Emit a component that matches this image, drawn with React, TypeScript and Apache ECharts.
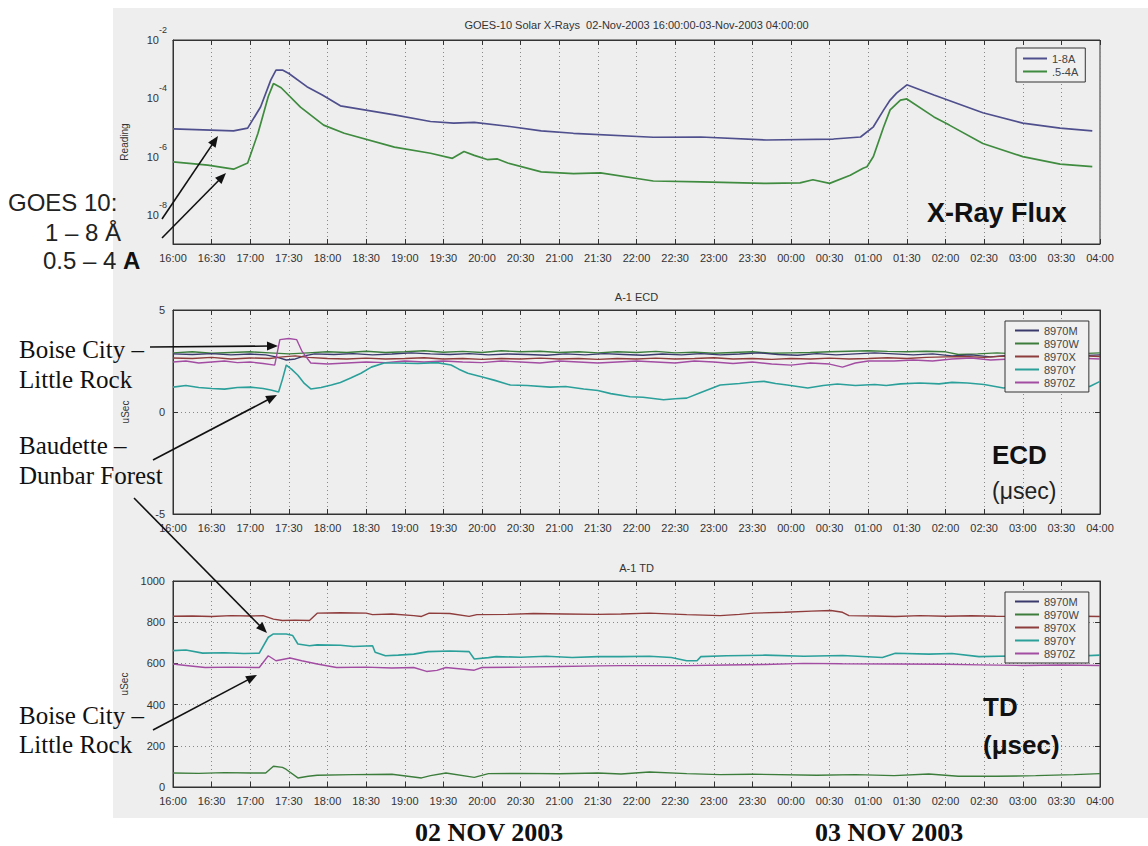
import React, { useEffect, useRef } from 'react';
import * as echarts from 'echarts';

// ---------- texts ----------
const xRayTitle = 'GOES-10 Solar X-Rays  02-Nov-2003 16:00:00-03-Nov-2003 04:00:00';
const ecdTitle = 'A-1 ECD';
const tdTitle = 'A-1 TD';
const xRayNames = ['1-8A', '.5-4A'];
const stationNames = ['8970M', '8970W', '8970X', '8970Y', '8970Z'];

// ---------- data: [minutes after 02-Nov 16:00, value] ----------
const xray18: [number, number][] = [
  [0, 8.9e-6], [47, 7.6e-6], [58, 9.5e-6], [68, 5.0e-5], [76, 4.3e-4], [80, 9.3e-4], [85, 9.3e-4],
  [90, 7.1e-4], [104, 2.5e-4], [116, 1.3e-4], [130, 5.5e-5], [172, 2.7e-5], [200, 1.6e-5],
  [218, 1.4e-5], [234, 1.5e-5], [260, 1.1e-5], [286, 7.6e-6], [311, 6.3e-6], [373, 4.6e-6],
  [410, 4.7e-6], [461, 3.7e-6], [513, 4.0e-6], [534, 4.7e-6], [544, 1.05e-5], [552, 4.0e-5],
  [557, 8.7e-5], [562, 1.5e-4], [570, 2.9e-4], [591, 1.3e-4], [629, 3.2e-5], [660, 1.4e-5],
  [689, 9.5e-6], [714, 7.6e-6],
];
const xray054: [number, number][] = [
  [0, 6.6e-7], [27, 5.1e-7], [47, 3.7e-7], [58, 6.0e-7], [66, 6.3e-6], [74, 1.15e-4], [78, 3.2e-4],
  [84, 2.3e-4], [99, 5.0e-5], [117, 1.2e-5], [133, 6.3e-6], [172, 2.1e-6], [200, 1.3e-6],
  [217, 8.7e-7], [226, 1.5e-6], [234, 1.1e-6], [244, 7.9e-7], [252, 8.3e-7], [260, 6.0e-7],
  [286, 3.0e-7], [311, 2.6e-7], [332, 2.75e-7], [373, 1.45e-7], [410, 1.35e-7], [461, 1.2e-7],
  [487, 1.25e-7], [497, 1.6e-7], [510, 1.2e-7], [526, 2.3e-7], [536, 4.0e-7], [539, 4.5e-7],
  [544, 1.0e-6], [552, 1.05e-5], [557, 4.0e-5], [565, 8.7e-5], [570, 9.5e-5], [591, 2.3e-5],
  [603, 1.2e-5], [629, 2.8e-6], [660, 1.0e-6], [689, 5.5e-7], [714, 4.5e-7],
];

const ecdM: [number, number][] = [
  [0, 2.85], [15, 2.82], [30, 2.86], [45, 2.8], [60, 2.84], [72, 2.8], [80, 2.7], [88, 2.55], [95, 2.6],
  [102, 2.75], [110, 2.85], [125, 2.82], [140, 2.86], [155, 2.8], [170, 2.84], [185, 2.9], [200, 2.85],
  [215, 2.82], [230, 2.86], [245, 2.8], [260, 2.84], [275, 2.82], [290, 2.78], [305, 2.85], [320, 2.8],
  [335, 2.86], [350, 2.82], [365, 2.78], [380, 2.84], [395, 2.8], [410, 2.86], [425, 2.8], [440, 2.84],
  [455, 2.9], [470, 2.82], [485, 2.78], [500, 2.86], [515, 2.8], [530, 2.85], [545, 2.9], [560, 2.85],
  [575, 2.8], [590, 2.85], [605, 2.75], [620, 2.8], [635, 2.7], [650, 2.78], [665, 2.72], [680, 2.8],
  [700, 2.75], [720, 2.8],
];
const ecdW: [number, number][] = [
  [0, 2.9], [15, 2.95], [30, 2.88], [45, 2.92], [60, 2.95], [75, 2.9], [90, 2.85], [105, 2.9], [120, 2.95],
  [135, 2.92], [150, 2.98], [165, 2.92], [180, 2.95], [195, 3.0], [210, 2.93], [225, 2.97], [240, 2.92],
  [255, 3.0], [270, 2.95], [285, 2.98], [300, 2.92], [315, 2.95], [330, 2.9], [345, 2.95], [360, 2.92],
  [375, 2.97], [390, 2.9], [405, 2.93], [420, 2.88], [435, 2.92], [450, 2.95], [465, 2.88], [480, 2.9],
  [495, 2.92], [510, 2.95], [525, 2.98], [540, 3.0], [555, 2.97], [570, 2.95], [585, 2.98], [600, 2.95],
  [610, 2.82], [625, 2.85], [640, 2.9], [655, 2.85], [670, 2.92], [685, 2.88], [700, 2.85], [720, 2.9],
];
const ecdX: [number, number][] = [
  [0, 2.65], [15, 2.62], [30, 2.68], [45, 2.6], [60, 2.65], [75, 2.62], [85, 2.7], [95, 2.75], [105, 2.68],
  [120, 2.62], [135, 2.6], [150, 2.64], [165, 2.6], [180, 2.62], [195, 2.66], [210, 2.6], [225, 2.62],
  [240, 2.58], [255, 2.62], [270, 2.6], [285, 2.64], [300, 2.6], [315, 2.62], [330, 2.58], [345, 2.62],
  [360, 2.6], [375, 2.64], [390, 2.6], [405, 2.62], [420, 2.66], [435, 2.6], [450, 2.62], [465, 2.58],
  [480, 2.62], [495, 2.6], [510, 2.64], [525, 2.6], [540, 2.62], [555, 2.66], [570, 2.62], [585, 2.68],
  [600, 2.7], [615, 2.72], [630, 2.68], [645, 2.74], [660, 2.7], [675, 2.76], [690, 2.72], [705, 2.75],
  [720, 2.72],
];
const ecdY: [number, number][] = [
  [0, 1.22], [10, 1.3], [20, 1.2], [30, 1.15], [40, 1.12], [50, 1.2], [60, 1.22], [70, 1.15], [76, 1.08],
  [82, 0.98], [85, 1.6], [88, 2.3], [92, 2.1], [97, 1.8], [102, 1.4], [107, 1.13], [115, 1.2], [123, 1.32],
  [130, 1.45], [138, 1.67], [146, 1.9], [154, 2.2], [164, 2.4], [175, 2.4], [190, 2.38], [205, 2.42],
  [216, 2.3], [222, 2.1], [229, 1.9], [241, 1.7], [250, 1.55], [262, 1.32], [275, 1.3], [293, 1.22],
  [305, 1.25], [319, 1.13], [330, 1.05], [340, 0.9], [355, 0.75], [365, 0.72], [381, 0.6], [390, 0.65],
  [399, 0.68], [410, 0.95], [425, 1.32], [440, 1.4], [451, 1.47], [459, 1.5], [468, 1.4], [477, 1.32],
  [485, 1.25], [493, 1.18], [505, 1.3], [516, 1.37], [530, 1.3], [545, 1.35], [554, 1.3], [565, 1.38],
  [580, 1.42], [595, 1.38], [605, 1.45], [617, 1.42], [630, 1.35], [645, 1.18], [660, 1.3], [680, 1.35],
  [700, 1.3], [712, 1.25], [720, 1.5],
];
const ecdZ: [number, number][] = [
  [0, 2.45], [10, 2.5], [20, 2.4], [30, 2.45], [40, 2.5], [50, 2.42], [60, 2.45], [70, 2.38], [79, 2.3],
  [83, 3.55], [90, 3.6], [96, 3.55], [100, 3.0], [107, 2.4], [120, 2.35], [135, 2.4], [150, 2.45],
  [165, 2.42], [180, 2.5], [195, 2.45], [210, 2.5], [225, 2.45], [240, 2.42], [255, 2.5], [270, 2.45],
  [285, 2.4], [300, 2.5], [315, 2.45], [330, 2.4], [345, 2.45], [360, 2.5], [375, 2.45], [390, 2.4],
  [405, 2.5], [420, 2.45], [435, 2.38], [450, 2.45], [465, 2.35], [480, 2.3], [495, 2.4], [510, 2.35],
  [520, 2.2], [530, 2.4], [540, 2.5], [560, 2.5], [575, 2.55], [590, 2.5], [605, 2.6], [620, 2.65],
  [635, 2.55], [650, 2.6], [665, 2.55], [680, 2.6], [700, 2.65], [720, 2.6],
];

const tdM: [number, number][] = [];
const tdW: [number, number][] = [
  [0, 68], [20, 66], [40, 70], [60, 68], [72, 68], [78, 101], [85, 95], [88, 85], [97, 44], [105, 52],
  [112, 57], [140, 60], [170, 62], [193, 44], [200, 55], [212, 68], [234, 47], [245, 65], [270, 66],
  [300, 64], [330, 68], [348, 63], [370, 73], [399, 65], [425, 60], [450, 62], [500, 57], [530, 60],
  [560, 55], [587, 63], [610, 52], [640, 52], [670, 55], [700, 60], [720, 65],
];
const tdX: [number, number][] = [
  [0, 829], [15, 830], [30, 828], [45, 832], [60, 830], [70, 832], [78, 815], [85, 808], [95, 810],
  [106, 808], [112, 844], [130, 846], [150, 844], [155, 837], [170, 840], [187, 832], [193, 828],
  [199, 844], [215, 842], [230, 828], [236, 837], [260, 838], [280, 842], [304, 840], [330, 838],
  [348, 840], [370, 844], [399, 837], [425, 832], [440, 838], [451, 844], [475, 848], [496, 854],
  [511, 857], [520, 848], [525, 832], [545, 830], [561, 828], [580, 832], [600, 829], [620, 831],
  [639, 829], [660, 828], [690, 830], [720, 828],
];
const tdY: [number, number][] = [
  [0, 662], [10, 665], [23, 650], [40, 652], [55, 648], [67, 650], [74, 727], [78, 743], [88, 743],
  [93, 735], [97, 694], [106, 686], [112, 690], [130, 688], [140, 682], [155, 686], [157, 654],
  [165, 637], [175, 640], [187, 645], [198, 657], [215, 660], [230, 657], [234, 621], [245, 628],
  [251, 633], [270, 630], [290, 635], [310, 629], [330, 633], [348, 633], [370, 635], [387, 629],
  [399, 613], [407, 613], [410, 633], [430, 637], [460, 640], [490, 635], [520, 638], [551, 629],
  [561, 649], [587, 645], [605, 648], [626, 633], [650, 636], [680, 630], [700, 635], [720, 640],
];
const tdZ: [number, number][] = [
  [0, 597], [10, 590], [25, 580], [45, 582], [67, 580], [74, 637], [80, 613], [91, 626], [100, 613],
  [112, 597], [127, 580], [150, 582], [170, 578], [187, 580], [197, 561], [205, 566], [212, 580],
  [234, 567], [240, 580], [270, 582], [300, 585], [330, 588], [348, 589], [400, 589], [430, 592],
  [460, 595], [490, 600], [520, 598], [560, 597], [600, 596], [626, 593], [660, 590], [690, 592],
  [720, 590],
];

const xRayGridValues = [1e-4, 1e-6, 1e-8];

// ---------- styles ----------
const xRayColors = ['#4f4f8e', '#3f8b3f'];
const stationColors = ['#3a3a6c', '#3c7d3c', '#8f3c3c', '#2ba09b', '#a24ca2'];
const SANS = '"Liberation Sans", Arial, sans-serif';
const SERIF = '"Liberation Serif", "Times New Roman", serif';
const AXIS = '#333';

const fmtTime = (m: number) => {
  const h = (16 + Math.floor(m / 60)) % 24;
  const mm = m % 60;
  return String(h).padStart(2, '0') + ':' + String(mm).padStart(2, '0');
};

const grids = [
  { left: 173, top: 40, width: 927, height: 204 },
  { left: 173, top: 310, width: 927, height: 204 },
  { left: 173, top: 581, width: 927, height: 206 },
];

function xAxes(gi: number) {
  const base = {
    type: 'value', gridIndex: gi, min: 0, max: 720, interval: 30,
    axisLine: { show: true, onZero: false, lineStyle: { color: AXIS, width: 1 } },
    axisTick: { show: true, inside: true, length: 5, lineStyle: { color: AXIS } },
  };
  return [
    {
      ...base, position: 'bottom',
      axisLabel: { show: true, formatter: fmtTime, color: AXIS, fontSize: 11, margin: 8, fontFamily: SANS },
      splitLine: { show: true, lineStyle: { color: '#888', type: [1, 3], width: 1 } },
    },
    { ...base, position: 'top', axisLabel: { show: false }, splitLine: { show: false } },
  ];
}

function linY(gi: number, min: number, max: number, interval: number) {
  const base = {
    type: 'value', gridIndex: gi, min, max, interval,
    axisLine: { show: true, onZero: false, lineStyle: { color: AXIS } },
    axisTick: { show: true, inside: true, length: 5, lineStyle: { color: AXIS } },
  };
  return [
    {
      ...base, position: 'left', name: 'uSec', nameLocation: 'middle', nameGap: 43, nameRotate: 90,
      nameTextStyle: { fontSize: 10, color: AXIS, fontFamily: SANS },
      axisLabel: { color: AXIS, fontSize: 11, margin: 8, fontFamily: SANS, formatter: (v: number) => String(v) },
      splitLine: { show: true, lineStyle: { color: '#888', type: [1, 3], width: 1 } },
    },
    { ...base, position: 'right', axisLabel: { show: false }, splitLine: { show: false } },
  ];
}

function arrow(x1: number, y1: number, x2: number, y2: number) {
  const dx = x2 - x1, dy = y2 - y1;
  const len = Math.hypot(dx, dy);
  const ux = dx / len, uy = dy / len;
  const L = 11, W = 4.5;
  const bx = x2 - ux * L, by = y2 - uy * L;
  return [
    { type: 'line', z: 50, shape: { x1, y1, x2: x2 - ux * L * 0.7, y2: y2 - uy * L * 0.7 }, style: { stroke: '#111', lineWidth: 1.6 } },
    { type: 'polygon', z: 50, shape: { points: [[x2, y2], [bx - uy * W, by + ux * W], [bx + uy * W, by - ux * W]] }, style: { fill: '#111' } },
  ];
}

function txt(text: string, x: number, y: number, size: number, family: string, weight = 'normal', align = 'left', color = '#111', rich?: any) {
  return {
    type: 'text', z: 50, x, y,
    style: {
      text, fontSize: size, fontFamily: family, fontWeight: weight, fill: color,
      align, verticalAlign: 'middle', textAlign: align, textVerticalAlign: 'middle', rich,
    },
  };
}

function lineSeries(name: string, data: [number, number][], color: string, xi: number, yi: number, width: number) {
  return {
    type: 'line', name, data, xAxisIndex: xi, yAxisIndex: yi, showSymbol: false, symbol: 'none',
    color, lineStyle: { color, width }, z: 3, silent: true,
  };
}

function legend(names: string[], left: number, top: number, padding: number[]) {
  return {
    data: names, left, top, orient: 'vertical', itemGap: 2, itemWidth: 24, itemHeight: 2, icon: 'rect',
    selectedMode: false, padding, backgroundColor: '#f0f0f0', borderColor: '#333', borderWidth: 1,
    textStyle: { fontSize: 11, color: '#444', fontFamily: SANS },
  };
}

export default function App() {
  const ref = useRef<HTMLDivElement>(null);
  useEffect(() => {
    if (!ref.current) return;
    const chart = echarts.init(ref.current, undefined, { renderer: 'svg' });
    const plotCenter = 173 + 927 / 2;
    const option: any = {
      animation: false,
      backgroundColor: '#ffffff',
      grid: grids.map((g) => ({ ...g, show: true, borderColor: AXIS, borderWidth: 1, backgroundColor: 'transparent', containLabel: false, outerBoundsMode: 'none' })),
      xAxis: [...xAxes(0), ...xAxes(1), ...xAxes(2)],
      yAxis: [
        {
          type: 'log', logBase: 10, gridIndex: 0, min: 1e-9, max: 1e-2, position: 'left',
          name: 'Reading', nameLocation: 'middle', nameGap: 44, nameRotate: 90,
          nameTextStyle: { fontSize: 10, color: AXIS, fontFamily: SANS },
          axisLine: { show: true, lineStyle: { color: AXIS } },
          axisTick: { show: false },
          splitLine: { show: false },
          axisLabel: {
            color: AXIS, margin: 6, fontFamily: SANS, padding: [0, 0, 9, 0],
            formatter: (v: number) => {
              const e = Math.round(Math.log10(v));
              if (e % 2 !== 0) return '';
              return '{b|10}{s|' + e + '}';
            },
            rich: {
              b: { fontSize: 11, color: AXIS, fontFamily: SANS, verticalAlign: 'bottom', lineHeight: 20 },
              s: { fontSize: 9, color: AXIS, fontFamily: SANS, verticalAlign: 'top', lineHeight: 20 },
            },
          },
        },
        ...linY(1, -5, 5, 5),
        ...linY(2, 0, 1000, 200),
      ],
      legend: [
        legend(xRayNames, 1016, 48, [5, 7]),
        legend(stationNames, 1005, 321, [4, 10]),
        legend(stationNames, 1005, 592, [4, 10]),
      ],
      series: [
        {
          ...lineSeries(xRayNames[0], xray18, xRayColors[0], 0, 0, 1.7),
          markLine: {
            silent: true, symbol: 'none', label: { show: false },
            lineStyle: { color: '#888', type: [1, 3], width: 1 },
            data: xRayGridValues.map((v) => ({ yAxis: v })),
          },
        },
        lineSeries(xRayNames[1], xray054, xRayColors[1], 0, 0, 1.7),
        lineSeries(stationNames[1], ecdW, stationColors[1], 2, 1, 1.4),
        lineSeries(stationNames[0], ecdM, stationColors[0], 2, 1, 1.4),
        lineSeries(stationNames[2], ecdX, stationColors[2], 2, 1, 1.4),
        lineSeries(stationNames[4], ecdZ, stationColors[4], 2, 1, 1.4),
        lineSeries(stationNames[3], ecdY, stationColors[3], 2, 1, 1.6),
        lineSeries(stationNames[0], tdM, stationColors[0], 4, 3, 1.4),
        lineSeries(stationNames[1], tdW, stationColors[1], 4, 3, 1.4),
        lineSeries(stationNames[2], tdX, stationColors[2], 4, 3, 1.4),
        lineSeries(stationNames[3], tdY, stationColors[3], 4, 3, 1.6),
        lineSeries(stationNames[4], tdZ, stationColors[4], 4, 3, 1.4),
      ],
      graphic: [
        { type: 'rect', z: -10, shape: { x: 113, y: 8, width: 1035, height: 810 }, style: { fill: '#eeeeee' } },
        txt(xRayTitle, plotCenter, 25, 11, SANS, 'normal', 'center', '#333'),
        txt(ecdTitle, plotCenter, 297, 11, SANS, 'normal', 'center', '#333'),
        txt(tdTitle, plotCenter, 568, 11, SANS, 'normal', 'center', '#333'),
        txt('GOES 10:', 8, 202, 24, SANS, 'normal', 'left', '#222'),
        txt('1 – 8 Å', 45, 232, 24, SANS, 'normal', 'left', '#222'),
        txt('{n|0.5 – 4 }{b|A}', 43, 260, 24, SANS, 'normal', 'left', '#222', {
          n: { fontSize: 24, fontFamily: SANS, fill: '#222', color: '#222' },
          b: { fontSize: 24, fontFamily: SANS, fontWeight: 'bold', fill: '#111', color: '#111' },
        }),
        txt('Boise City –', 19, 349, 25, SERIF),
        txt('Little Rock', 19, 379, 25, SERIF),
        txt('Baudette –', 19, 445, 25, SERIF),
        txt('Dunbar Forest', 19, 475, 25, SERIF),
        txt('Boise City –', 19, 715, 25, SERIF),
        txt('Little Rock', 19, 744, 25, SERIF),
        txt('X-Ray Flux', 927, 213, 27, SANS, 'bold'),
        txt('ECD', 992, 455, 26, SANS, 'bold'),
        txt('(μsec)', 992, 491, 23, SANS, 'normal', 'left', '#222'),
        txt('TD', 983, 707, 26, SANS, 'bold'),
        txt('(μsec)', 983, 745, 26, SANS, 'bold'),
        txt('02 NOV 2003', 415, 832, 26, SERIF, 'bold'),
        txt('03 NOV 2003', 815, 832, 26, SERIF, 'bold'),
        ...arrow(162, 219, 218, 136),
        ...arrow(162, 238, 226, 173),
        ...arrow(150, 347, 278, 346),
        ...arrow(153, 460, 277, 395),
        ...arrow(134, 498, 267, 633),
        ...arrow(153, 730, 257, 675),
      ],
    };
    chart.setOption(option);
    return () => chart.dispose();
  }, []);
  return <div ref={ref} style={{ position: 'absolute', left: 0, top: 0, width: 1148, height: 846 }} />;
}
